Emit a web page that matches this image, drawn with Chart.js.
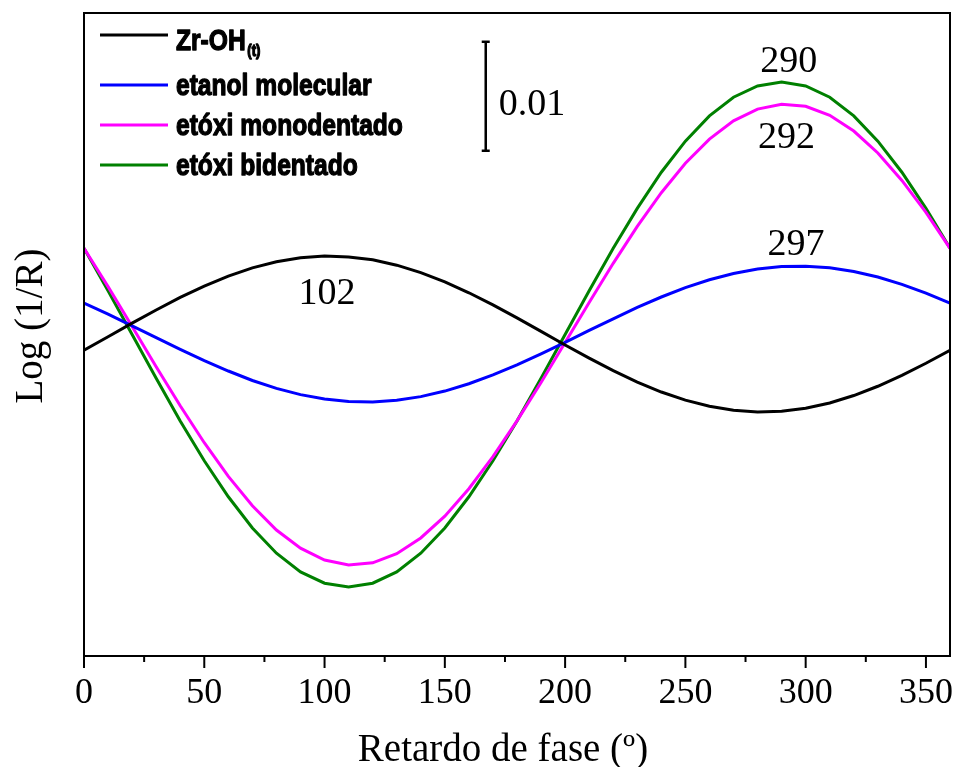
<!DOCTYPE html>
<html lang="pt">
<head>
<meta charset="utf-8">
<title>Log (1/R) x Retardo de fase</title>
<script src="https://cdn.jsdelivr.net/npm/chart.js@4.4.1/dist/chart.umd.min.js"></script>
<style>
  html, body { margin: 0; padding: 0; background: #fff; }
  canvas { display: block; }
</style>
</head>
<body>
<canvas id="grafico" width="953" height="767"></canvas>
<script>
// Retardo de fase (graus), passo de 10
const fases = [0, 10, 20, 30, 40, 50, 60, 70, 80, 90, 100, 110, 120, 130, 140, 150, 160, 170, 180,
               190, 200, 210, 220, 230, 240, 250, 260, 270, 280, 290, 300, 310, 320, 330, 340, 350, 360];

// Log(1/R) (escala relativa, barra = 0.01)
const zrOH = [0.02806, 0.02929, 0.03054, 0.03175, 0.03290, 0.03394, 0.03486, 0.03561, 0.03617, 0.03654,
              0.03670, 0.03662, 0.03635, 0.03586, 0.03518, 0.03433, 0.03333, 0.03222, 0.03103, 0.02979,
              0.02854, 0.02733, 0.02618, 0.02514, 0.02422, 0.02348, 0.02291, 0.02254, 0.02239, 0.02246,
              0.02273, 0.02322, 0.02390, 0.02475, 0.02575, 0.02686, 0.02806];
const etanolMolecular = [0.03238, 0.03137, 0.03030, 0.02921, 0.02814, 0.02710, 0.02615, 0.02528, 0.02456, 0.02398,
              0.02358, 0.02335, 0.02331, 0.02346, 0.02380, 0.02431, 0.02498, 0.02579, 0.02671, 0.02772,
              0.02878, 0.02987, 0.03094, 0.03198, 0.03294, 0.03380, 0.03452, 0.03510, 0.03550, 0.03573,
              0.03577, 0.03562, 0.03528, 0.03477, 0.03410, 0.03329, 0.03238];
const etoxiMonodentado = [0.03741, 0.03389, 0.03023, 0.02655, 0.02296, 0.01957, 0.01648, 0.01378, 0.01156, 0.00989,
              0.00881, 0.00836, 0.00855, 0.00939, 0.01083, 0.01283, 0.01535, 0.01829, 0.02158, 0.02510,
              0.02876, 0.03244, 0.03603, 0.03942, 0.04251, 0.04521, 0.04743, 0.04910, 0.05018, 0.05063,
              0.05044, 0.04961, 0.04817, 0.04616, 0.04364, 0.04070, 0.03741];
const etoxiBidentado = [0.03742, 0.03351, 0.02950, 0.02548, 0.02157, 0.01791, 0.01461, 0.01175, 0.00943, 0.00772,
              0.00668, 0.00633, 0.00668, 0.00772, 0.00943, 0.01175, 0.01461, 0.01791, 0.02157, 0.02548,
              0.02950, 0.03351, 0.03742, 0.04107, 0.04439, 0.04724, 0.04956, 0.05127, 0.05231, 0.05266,
              0.05231, 0.05127, 0.04956, 0.04724, 0.04439, 0.04107, 0.03742];

const nomesSeries = ['Zr-OH', 'etanol molecular', 'etóxi monodentado', 'etóxi bidentado'];

// marcas do eixo x
const ticksX = [0, 50, 100, 150, 200, 250, 300, 350];
const ticksMenoresX = [25, 75, 125, 175, 225, 275, 325];

// anotações dos máximos (texto, fase, valor da linha de base)
const picosTexto = ['102', '290', '292', '297'];
const picosFase = [101, 293, 292, 296];
const picosValor = [0.03229, 0.05358, 0.04661, 0.03679];

// barra de escala
const barraEscala = 0.01;
const barraFase = 167;
const barraBase = 0.04636;

const fonteSerif = '"Liberation Serif", "Times New Roman", serif';
const fonteLegenda = '"Liberation Sans Narrow", "Arial Narrow", "Liberation Sans", sans-serif';

function pontos(valores) {
    return fases.map((f, i) => ({ x: f, y: valores[i] }));
}

function linha(ctx, x1, y1, x2, y2) {
    ctx.beginPath();
    ctx.moveTo(x1, y1);
    ctx.lineTo(x2, y2);
    ctx.stroke();
}

// Plugin para moldura, marcas, textos e legenda
const desenhoExtra = {
    id: 'desenhoExtra',
    afterDraw(chart) {
        const ctx = chart.ctx;
        const area = chart.chartArea;
        const sx = chart.scales.x;
        const sy = chart.scales.y;
        ctx.save();

        // moldura
        ctx.strokeStyle = '#000';
        ctx.lineWidth = 2;
        ctx.strokeRect(area.left, area.top, area.right - area.left, area.bottom - area.top);

        // marcas do eixo x
        ticksX.forEach(v => {
            const px = sx.getPixelForValue(v);
            linha(ctx, px, area.bottom, px, area.bottom + 12);
        });
        ticksMenoresX.forEach(v => {
            const px = sx.getPixelForValue(v);
            linha(ctx, px, area.bottom, px, area.bottom + 6);
        });

        ctx.fillStyle = '#000';
        ctx.textAlign = 'center';
        ctx.textBaseline = 'alphabetic';
        ctx.font = '36px ' + fonteSerif;
        ticksX.forEach(v => {
            ctx.fillText(String(v), sx.getPixelForValue(v), area.bottom + 47);
        });

        // títulos dos eixos
        ctx.font = '39px ' + fonteSerif;
        ctx.fillText('Retardo de fase (º)', 503, 761);
        ctx.save();
        ctx.translate(42, 326);
        ctx.rotate(-Math.PI / 2);
        ctx.fillText('Log (1/R)', 0, 0);
        ctx.restore();

        // anotações
        ctx.font = '38px ' + fonteSerif;
        picosTexto.forEach((t, i) => {
            ctx.fillText(t, sx.getPixelForValue(picosFase[i]), sy.getPixelForValue(picosValor[i]));
        });

        // barra de escala
        const bx = sx.getPixelForValue(barraFase);
        const by1 = sy.getPixelForValue(barraBase);
        const by2 = sy.getPixelForValue(barraBase + barraEscala);
        ctx.lineWidth = 2.5;
        linha(ctx, bx, by1, bx, by2);
        linha(ctx, bx - 4, by1, bx + 4, by1);
        linha(ctx, bx - 4, by2, bx + 4, by2);
        ctx.textAlign = 'left';
        ctx.fillText(barraEscala.toFixed(2), bx + 13, 115);

        // legenda (texto estreitado e engrossado)
        const x0 = area.left + 16;
        const yLinhas = [35, 85, 125, 165];
        const estreito = 0.82;
        ctx.lineWidth = 3;
        chart.data.datasets.forEach((ds, i) => {
            ctx.strokeStyle = ds.borderColor;
            ctx.lineWidth = 3;
            linha(ctx, x0, yLinhas[i], x0 + 68, yLinhas[i]);
            ctx.fillStyle = '#000';
            ctx.strokeStyle = '#000';
            ctx.lineWidth = 1.3;
            ctx.lineJoin = 'round';
            const base = i === 0 ? 50 : yLinhas[i] + 10;
            ctx.save();
            ctx.translate(x0 + 76, base);
            ctx.scale(estreito, 1);
            ctx.font = 'bold 30px ' + fonteLegenda;
            ctx.fillText(nomesSeries[i], 0, 0);
            ctx.strokeText(nomesSeries[i], 0, 0);
            if (i === 0) {
                const w = ctx.measureText(nomesSeries[i]).width;
                ctx.font = 'bold 16px ' + fonteLegenda;
                ctx.fillText('(t)', w + 2, 6);
                ctx.strokeText('(t)', w + 2, 6);
            }
            ctx.restore();
        });

        ctx.restore();
    }
};

new Chart(document.getElementById('grafico'), {
    type: 'line',
    data: {
        datasets: [
            { label: nomesSeries[0], data: pontos(zrOH), borderColor: '#000000' },
            { label: nomesSeries[1], data: pontos(etanolMolecular), borderColor: '#0000ff' },
            { label: nomesSeries[2], data: pontos(etoxiMonodentado), borderColor: '#ff00ff' },
            { label: nomesSeries[3], data: pontos(etoxiBidentado), borderColor: '#008000' }
        ]
    },
    options: {
        responsive: false,
        animation: false,
        devicePixelRatio: 1,
        layout: { padding: { left: 0, top: 13, right: 3, bottom: 0 } },
        elements: {
            line: { borderWidth: 3, tension: 0, fill: false },
            point: { radius: 0 }
        },
        plugins: {
            legend: { display: false },
            tooltip: { enabled: false }
        },
        scales: {
            x: {
                type: 'linear',
                min: 0,
                max: 360,
                ticks: { display: false },
                grid: { display: false },
                border: { display: false },
                afterFit: s => { s.height = 111; }
            },
            y: {
                min: 0,
                max: 0.059,
                ticks: { display: false },
                grid: { display: false },
                border: { display: false },
                afterFit: s => { s.width = 84; }
            }
        }
    },
    plugins: [desenhoExtra]
});
</script>
</body>
</html>
